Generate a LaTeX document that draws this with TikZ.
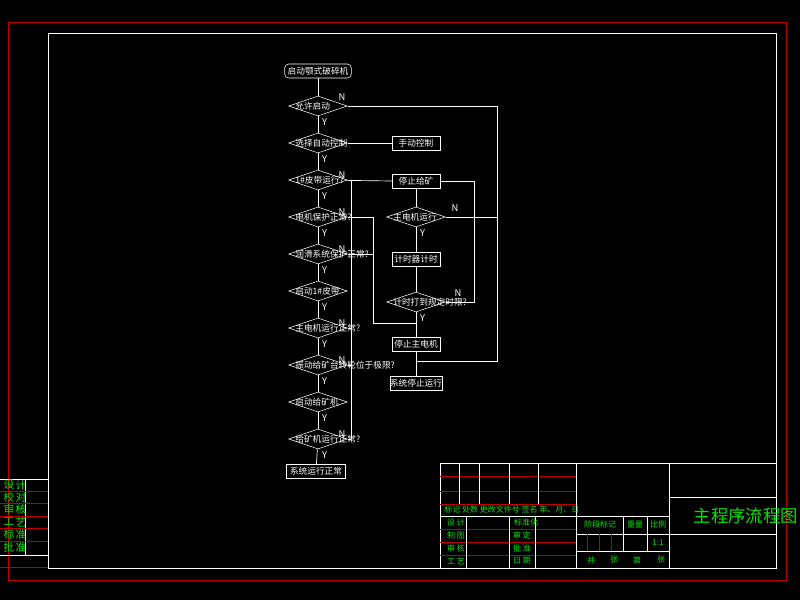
\documentclass[tikz,border=0pt]{standalone}
\usepackage{fontspec}
\setmainfont{Noto Sans CJK SC}
\usetikzlibrary{shapes.geometric}
\tikzset{
  lbl/.style={text=white,font=\fontsize{6.5}{7}\selectfont,inner sep=0pt},
  box/.style={rectangle,draw=white,minimum width=36pt,minimum height=10.5pt,inner sep=0pt,lbl},
  dec/.style={diamond,draw=white,minimum width=44pt,minimum height=15pt,inner sep=0pt,aspect=3,
    label={[lbl,anchor=west,label distance=0pt,xshift=5pt]west:#1}},
  yn/.style={text=white,font=\fontsize{7}{7}\selectfont,inner sep=0pt},
  gr/.style={text=green!90!black,font=\fontsize{6}{6}\selectfont,inner sep=0pt},
  rl/.style={draw=red!75!black,line width=0.5pt},
  wl/.style={draw=white,line width=0.5pt}
}
\begin{document}
\begin{tikzpicture}[x=0.75pt,y=-0.75pt]
   \fill[black] (0,0) rectangle (800,600);
   \useasboundingbox (0,0) rectangle (800,600);
   % frames
   \draw[rl] (8,22) rectangle (786,580);
   \draw[wl] (48,33) rectangle (776,568);
   % left column
   \node[box,rounded corners=3pt,minimum width=50pt] (QD) at (318,71) {启动颚式破碎机};
   \node[dec=允许启动] (YX) at (318,106) {};
   \node[dec=选择自动控制] (XZ) at (318,143) {};
   \node[dec=1\#皮带运行?] (PD) at (318,180) {};
   \node[dec=电机保护正常?] (DJ) at (318,217) {};
   \node[dec=润滑系统保护正常?] (RH) at (318,254) {};
   \node[dec=启动1\#皮带] (QP) at (318,291) {};
   \node[dec=主电机运行正常?] (ZD) at (318,328) {};
   \node[dec=振动给矿台转轮位于极限?] (ZG) at (318,365) {};
   \node[dec=启动给矿机] (QG) at (318,402) {};
   \node[dec=给矿机运行正常?] (GK) at (318,439) {};
   \node[box,minimum width=44pt] (XT) at (316,471) {系统运行正常};
   % right column
   \node[box] (SD) at (416,143) {手动控制};
   \node[box] (TG) at (416,181) {停止给矿};
   \node[dec=主电机运行] (ZY) at (416,217) {};
   \node[box] (JS) at (416,259) {计时器计时};
   \node[dec=计时打到规定时限?] (JD) at (416,302) {};
   \node[box] (TZ) at (416,344) {停止主电机};
   \node[box,minimum width=36pt] (TY) at (416,383) {系统停止运行};
   \coordinate (A1) at (497,106);
   \coordinate (A2) at (497,361);
   \coordinate (A3) at (416,361);
   \coordinate (B1) at (373,217);
   \coordinate (B2) at (373,323);
   \coordinate (B3) at (416,323);
   \coordinate (B4) at (373,254);
   \coordinate (C1) at (351,180);
   \coordinate (C2) at (351,439);
   \coordinate (D1) at (474,302);
   \coordinate (D2) at (474,181);
   \path[wl]
    (QD) edge (YX) (YX) edge (XZ) (XZ) edge (PD) (PD) edge (DJ)
    (DJ) edge (RH) (RH) edge (QP) (QP) edge (ZD) (ZD) edge (ZG)
    (ZG) edge (QG) (QG) edge (GK) (GK) edge (XT)
    (TG) edge (ZY) (ZY) edge (JS) (JS) edge (JD) (JD) edge (TZ) (TZ) edge (TY)
    (XZ) edge (SD)
    (PD) edge (TG.west)
    (C1) edge (C2)
    (ZD.east) edge (ZD.east -| C1)
    (ZG.east) edge (ZG.east -| C1)
    (GK.east) edge (GK.east -| C1)
    (RH.east) edge (B4);
   \draw[wl] (YX.east) -- (A1) -- (A2) -- (A3);
   \draw[wl] (DJ.east) -- (B1) -- (B2) -- (B3);
   \draw[wl] (ZY.east) -- (ZY.east -| A1);
   \draw[wl] (JD.east) -- (D1) -- (D2) -- (TG.east);
   % Y / N marks
   \foreach \n in {YX,XZ,PD,DJ,RH,QP,ZD,ZG,QG,GK,ZY,JD}
     \node[yn] at ([xshift=5pt,yshift=-4pt]\n.south) {Y};
   \node[yn] at (342,97) {N};
   \foreach \y in {175,212,249,323,360,434}
     \node[yn] at (342,\y) {N};
   \node[yn] at (455,208) {N};
   \node[yn] at (458,293) {N};
   % title block
   \draw[wl] (440,463) rectangle (776,568);
   \foreach \y in {476,491,504} \draw[rl] (440,\y) -- (576,\y);
   \foreach \y in {529,542,555} \draw[rl] (440,\y) -- (576,\y);
   \draw[wl] (440,516) -- (669,516);
   \foreach \x in {459,479,509,538} \draw[wl] (\x,463) -- (\x,504);
   \draw[wl] (466,516) -- (466,568);
   \draw[wl] (509,516) -- (509,568);
   \draw[wl] (535,516) -- (535,568);
   \draw[wl] (576,463) -- (576,568);
   \draw[wl] (669,463) -- (669,568);
   \draw[wl] (669,497) -- (776,497);
   \draw[wl] (669,534) -- (776,534);
   \draw[wl] (576,534) -- (669,534);
   \draw[wl] (576,551) -- (669,551);
   \draw[wl] (623,516) -- (623,551);
   \draw[wl] (647,516) -- (647,551);
   \foreach \x in {587,599,611} \draw[rl] (\x,534) -- (\x,551);
   \node[gr,anchor=west] at (444,509) {标记 处数 更改文件号 签名 年、月、日};
   \node[gr] at (456,522) {设 计};
   \node[gr] at (456,535) {制 图};
   \node[gr] at (456,548) {审 核};
   \node[gr] at (456,561) {工 艺};
   \node[gr] at (526,522) {标准化};
   \node[gr] at (522,535) {审 定};
   \node[gr] at (522,548) {批 准};
   \node[gr] at (522,561) {日 期};
   \node[gr] at (600,524) {阶段标记};
   \node[gr] at (635,524) {重量};
   \node[gr] at (658,524) {比例};
   \node[gr] at (658,543) {1:1};
   \node[gr] at (591,560) {共};
   \node[gr] at (614,560) {张};
   \node[gr] at (637,560) {第};
   \node[gr] at (661,560) {张};
   \node[gr,font=\fontsize{13}{13}\selectfont,anchor=east] at (798,516) {主程序流程图};
   % left strip
   \draw[wl] (0,479) -- (48,479);
   \draw[wl] (0,555) -- (48,555);
   \draw[wl] (25,479) -- (25,555);
   \foreach \y in {491,503,516,528,541} \draw[rl] (0,\y) -- (48,\y);
   \draw[rl] (0,567) -- (48,567);
   \foreach \a/\b/\y in {设/计/485,校/对/497,审/核/509,工/艺/522,标/准/534,批/准/547}{
     \node[gr,font=\fontsize{8}{8}\selectfont] at (9,\y) {\a};
     \node[gr,font=\fontsize{8}{8}\selectfont] at (21,\y) {\b};
   }
\end{tikzpicture}
\end{document}
